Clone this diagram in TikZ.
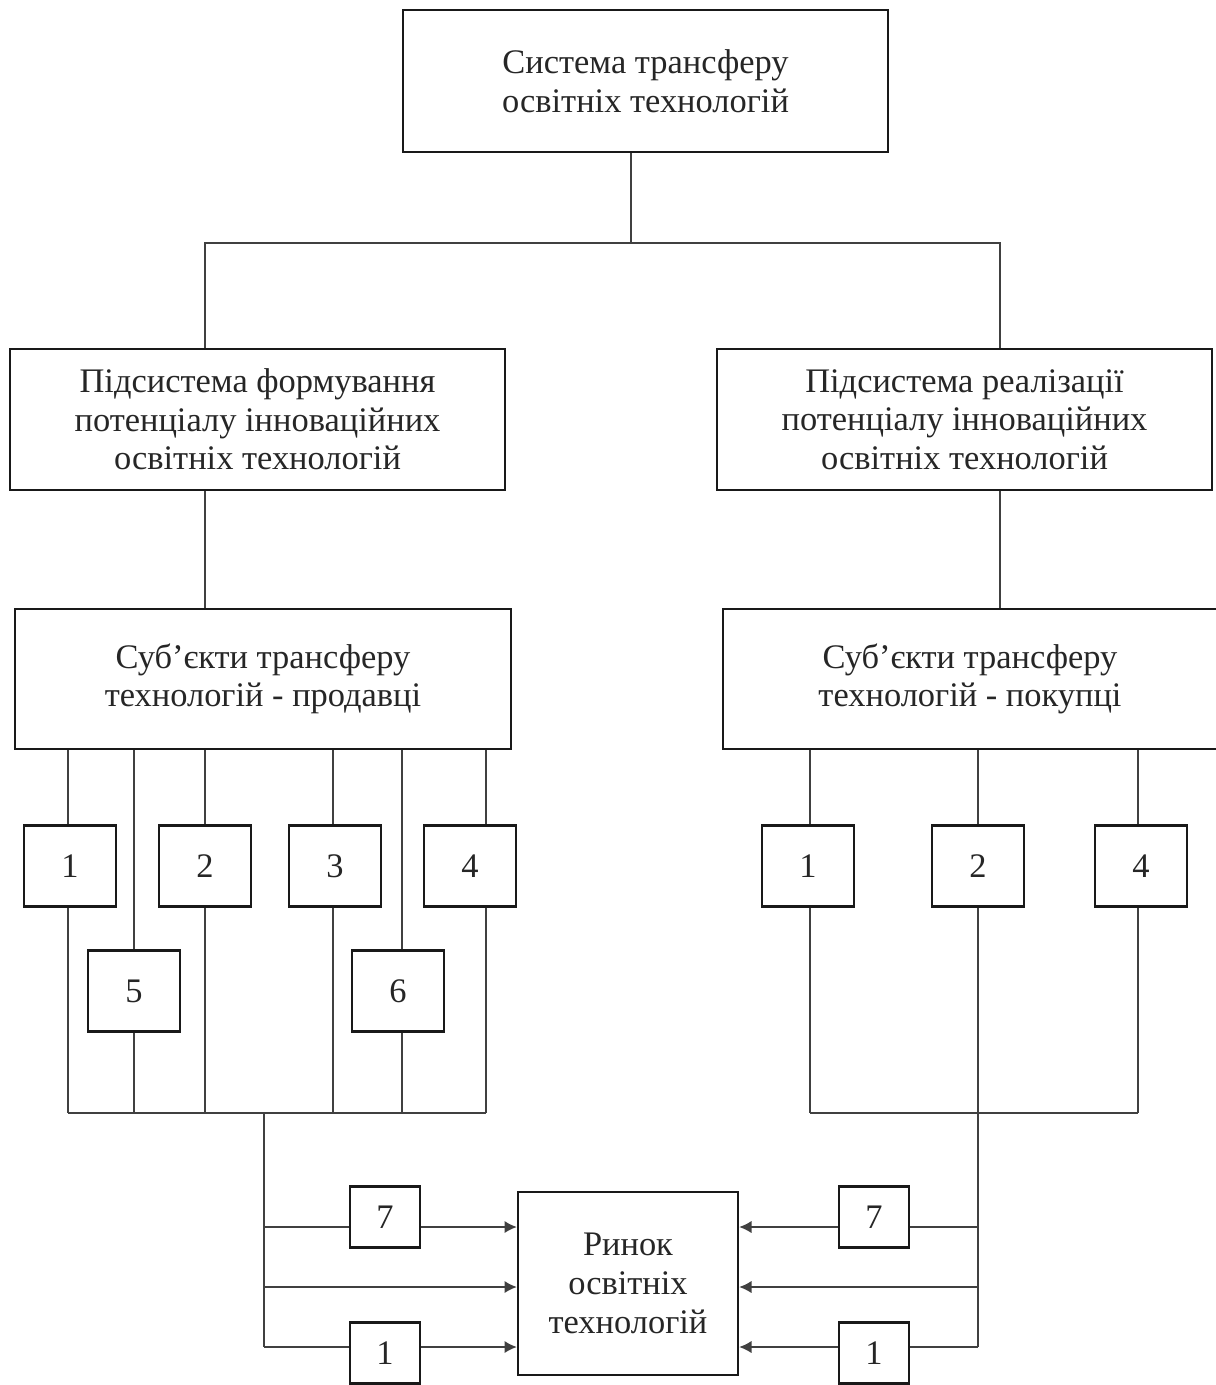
\documentclass[tikz,border=0pt]{standalone}
\usepackage{fontspec}
\setmainfont{Liberation Serif}
\usetikzlibrary{arrows.meta}

\begin{document}
\begin{tikzpicture}[x=0.02cm, y=-0.02cm, font=\fontsize{19.6}{22}\selectfont,
  blk/.style={draw=black!90, line width=1.4pt, align=center, inner sep=0pt, text=black!85},
  num/.style={blk, minimum width=1.84cm, minimum height=1.62cm},
  tiny/.style={blk, minimum width=1.4cm, minimum height=1.22cm},
  conn/.style={draw=black!75, line width=0.85pt},
  arr/.style={conn, -{Latex[length=7pt,width=7pt]}}]
	\useasboundingbox (0,0) rectangle (1215,1385);
	
	% Main blocks
	\node[blk, minimum width=9.7cm, minimum height=2.84cm] (sys) at (645.5,81) {Система трансферу\\освітніх технологій};
	\node[blk, minimum width=9.9cm, minimum height=2.82cm] (form) at (257.5,419.5) {Підсистема формування\\потенціалу інноваційних\\освітніх технологій};
	\node[blk, minimum width=9.9cm, minimum height=2.82cm] (real) at (964.5,419.5) {Підсистема реалізації\\потенціалу інноваційних\\освітніх технологій};
	\node[blk, minimum width=9.92cm, minimum height=2.8cm] (sell) at (263,679) {Суб’єкти трансферу\\технологій - продавці};
	\node[blk, minimum width=9.88cm, minimum height=2.8cm] (buy) at (970,679) {Суб’єкти трансферу\\технологій - покупці};
	\node[blk, minimum width=4.4cm, minimum height=3.66cm] (mkt) at (628,1283.5) {Ринок\\освітніх\\технологій};
	
	% Tree at the top
	\coordinate (j0) at (631,243);
	\coordinate (jl) at (205,243);
	\coordinate (jr) at (1000,243);
	\draw[conn] (sys.south -| j0) -- (j0);
	\draw[conn] (form.north -| jl) |- (jr) -- (real.north -| jr);
	\draw[conn] (form.south -| jl) -- (sell.north -| jl);
	\draw[conn] (real.south -| jr) -- (buy.north -| jr);
	
	% Sellers: numbered blocks and bus
	\foreach \n/\cx/\cy/\lx/\t in {a1/70/866/68/1, a2/205/866/205/2, a3/335/866/333/3, a4/470/866/486/4, a5/134/991/134/5, a6/398/991/402/6} {
		\node[num] (\n) at (\cx,\cy) {\t};
		\coordinate (l\n) at (\lx,1113);
		\draw[conn] (sell.south -| l\n) -- (\n.north -| l\n);
		\draw[conn] (\n.south -| l\n) -- (l\n);
	}
	\draw[conn] (la1) -- (la4);
	
	% Buyers: numbered blocks and bus
	\foreach \n/\cx/\lx/\t in {b1/808/810/1, b2/978/978/2, b4/1141/1138/4} {
		\node[num] (\n) at (\cx,866) {\t};
		\coordinate (l\n) at (\lx,1113);
		\draw[conn] (buy.south -| l\n) -- (\n.north -| l\n);
		\draw[conn] (\n.south -| l\n) -- (l\n);
	}
	\draw[conn] (lb1) -- (lb4);
	
	% Left feed into the market
	\coordinate (tl) at (264,1113);
	\coordinate (ly7) at (264,1227);
	\coordinate (lym) at (264,1287);
	\coordinate (ly1) at (264,1347);
	\node[tiny] (l7) at (385,1217) {7};
	\node[tiny] (l1) at (385,1353) {1};
	\draw[conn] (tl) -- (ly1);
	\draw[conn] (ly7) -- (l7.west |- ly7);
	\draw[arr] (l7.east |- ly7) -- (mkt.west |- ly7);
	\draw[arr] (lym) -- (mkt.west |- lym);
	\draw[conn] (ly1) -- (l1.west |- ly1);
	\draw[arr] (l1.east |- ly1) -- (mkt.west |- ly1);
	
	% Right feed into the market
	\coordinate (ry7) at (978,1227);
	\coordinate (rym) at (978,1287);
	\coordinate (ry1) at (978,1347);
	\node[tiny] (r7) at (874,1217) {7};
	\node[tiny] (r1) at (874,1353) {1};
	\draw[conn] (lb2) -- (ry1);
	\draw[conn] (ry7) -- (r7.east |- ry7);
	\draw[arr] (r7.west |- ry7) -- (mkt.east |- ry7);
	\draw[arr] (rym) -- (mkt.east |- rym);
	\draw[conn] (ry1) -- (r1.east |- ry1);
	\draw[arr] (r1.west |- ry1) -- (mkt.east |- ry1);
\end{tikzpicture}
\end{document}
